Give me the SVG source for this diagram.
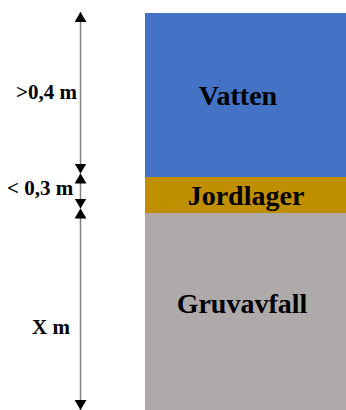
<svg xmlns="http://www.w3.org/2000/svg" width="346" height="410" viewBox="0 0 346 410">
<style>
.lbl{font-family:"Liberation Serif","Times New Roman",serif;font-weight:bold;fill:#000}
.side{font-size:21px}
.big{font-size:28px}
.dim{stroke:#7f7f7f;stroke-width:1.5;fill:none;marker-start:url(#ah);marker-end:url(#ah)}
</style>
<defs>
<marker id="ah" viewBox="0 0 10 12" refX="10" refY="6" markerWidth="10" markerHeight="12" markerUnits="userSpaceOnUse" orient="auto-start-reverse">
<path d="M0,0 L10,6 L0,12 Z" fill="#000"/>
</marker>
</defs>
<g id="vatten">
<rect x="145" y="13" width="201" height="164" fill="#4472C4"/>
<text class="lbl big" x="238" y="105" text-anchor="middle">Vatten</text>
</g>
<g id="jordlager">
<rect x="145" y="177" width="201" height="36" fill="#BF8F00"/>
<text class="lbl big" x="246" y="205" text-anchor="middle">Jordlager</text>
</g>
<g id="gruvavfall">
<rect x="145" y="213" width="201" height="197" fill="#AEAAAA"/>
<text class="lbl big" x="242" y="313" text-anchor="middle">Gruvavfall</text>
</g>
<g id="connectors">
<line class="dim" x1="80.5" y1="12" x2="80.5" y2="173.5"/>
<line class="dim" x1="80.5" y1="173.5" x2="80.5" y2="208.5"/>
<line class="dim" x1="80.5" y1="208.5" x2="80.5" y2="410"/>
</g>
<g id="labels">
<text class="lbl side" x="16" y="99">&gt;0,4 m</text>
<text class="lbl side" x="7" y="195">&lt; 0,3 m</text>
<text class="lbl side" x="32" y="334">X m</text>
</g>
</svg>
